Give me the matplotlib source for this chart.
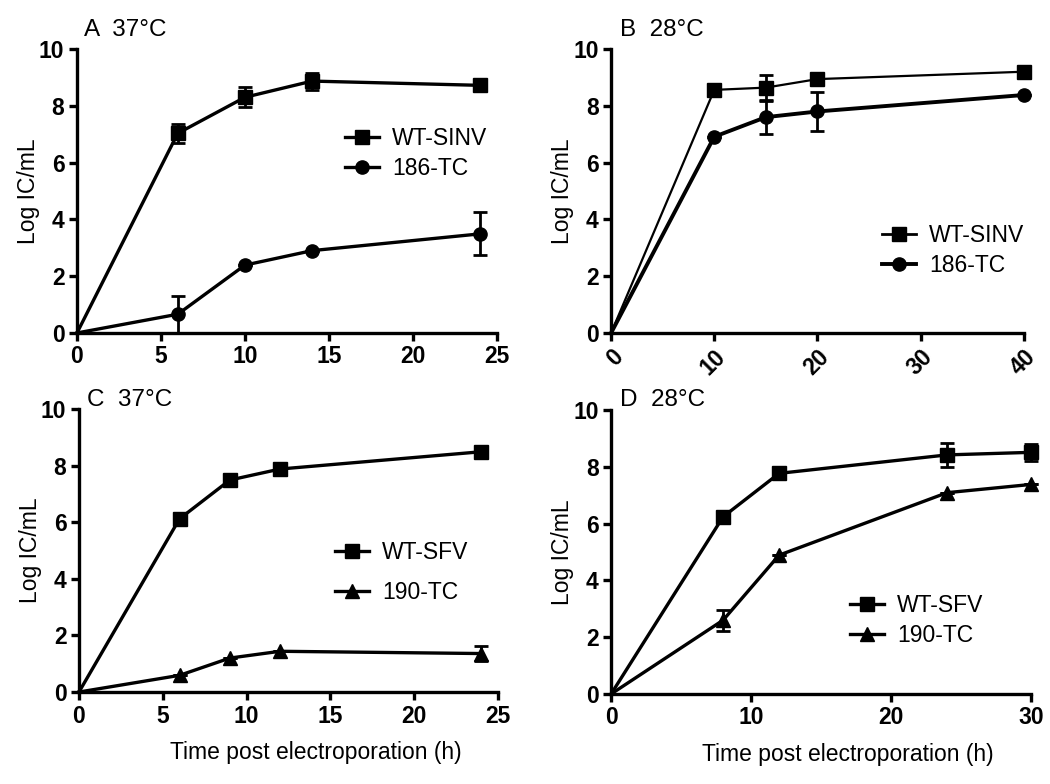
import matplotlib.pyplot as plt
from matplotlib.lines import Line2D

plt.rcParams['font.family'] = ['Liberation Sans', 'DejaVu Sans']

# Panel A: SINV at 37C
a_time = [0, 6, 10, 14, 24]
a_wt = [0, 7.03, 8.3, 8.87, 8.72]
a_wt_err = [0, 0.33, 0.35, 0.3, 0]
a_mut = [0, 0.66, 2.39, 2.9, 3.49]
a_mut_err = [0, 0.65, 0, 0, 0.76]

# Panel B: SINV at 28C
b_time = [0, 10, 15, 20, 40]
b_wt = [0, 8.56, 8.64, 8.94, 9.2]
b_wt_err = [0, 0, 0.44, 0, 0]
b_mut = [0, 6.91, 7.6, 7.8, 8.38]
b_mut_err = [0, 0, 0.58, 0.7, 0]

# Panel C: SFV at 37C
c_time = [0, 6, 9, 12, 24]
c_wt = [0, 6.12, 7.49, 7.88, 8.49]
c_wt_err = [0, 0, 0, 0, 0]
c_mut = [0, 0.59, 1.2, 1.44, 1.36]
c_mut_err = [0, 0, 0, 0, 0.28]

# Panel D: SFV at 28C
d_time = [0, 8, 12, 24, 30]
d_wt = [0, 6.24, 7.77, 8.42, 8.51]
d_wt_err = [0, 0, 0, 0.41, 0.29]
d_mut = [0, 2.6, 4.89, 7.09, 7.38]
d_mut_err = [0, 0.37, 0, 0, 0]

fig = plt.figure(figsize=(10.5, 7.84), dpi=100)

def style_axes(ax, xmax, xstep, rotate=False):
    ax.spines['top'].set_visible(False)
    ax.spines['right'].set_visible(False)
    ax.spines['left'].set_linewidth(2.4)
    ax.spines['bottom'].set_linewidth(2.4)
    ax.set_xlim(0, xmax)
    ax.set_ylim(0, 10)
    ax.set_xticks(range(0, xmax + 1, xstep))
    ax.set_yticks(range(0, 11, 2))
    ax.tick_params(width=2.4, length=6, labelsize=16.5, pad=3)
    for lab in ax.get_xticklabels() + ax.get_yticklabels():
        lab.set_fontweight('bold')
    if rotate:
        for lab in ax.get_xticklabels():
            lab.set_rotation(45)
            lab.set_ha('right')
            lab.set_va('top')
            lab.set_rotation_mode('anchor')
    ax.set_ylabel('Log IC/mL', fontsize=16.5, labelpad=-1)

def draw(ax, x, y, err, marker, lw=2.4):
    # line with error bars, markers only where data exist past time 0
    ax.errorbar(x, y, yerr=err, color='black', lw=lw, capsize=5, capthick=2,
                elinewidth=2, clip_on=False)
    ax.plot(x[1:], y[1:], ls='none', marker=marker, ms=9.5, color='black',
            clip_on=False)

def legend(ax, labels, markers, anchor, spacing, lws=(2.4, 2.4)):
    handles = [Line2D([], [], color='black', marker=m, ms=9.5, lw=w)
               for m, w in zip(markers, lws)]
    ax.legend(handles, labels, frameon=False, fontsize=16.5, loc='center left',
              bbox_to_anchor=anchor, borderpad=0, borderaxespad=0,
              handlelength=1.5, handletextpad=0.55, labelspacing=spacing)

axA = fig.add_axes([0.0733, 0.5753, 0.40, 0.3622])
draw(axA, a_time, a_wt, a_wt_err, 's')
draw(axA, a_time, a_mut, a_mut_err, 'o')
style_axes(axA, 25, 5)
legend(axA, ['WT-SINV', '186-TC'], ['s', 'o'], (0.638, 0.632), 0.3)
fig.text(0.080, 0.962, 'A  37\u00b0C', fontsize=17.5, va='center')

axB = fig.add_axes([0.582, 0.5753, 0.393, 0.3622])
draw(axB, b_time, b_wt, b_wt_err, 's', lw=1.6)
draw(axB, b_time, b_mut, b_mut_err, 'o', lw=2.8)
style_axes(axB, 40, 10, rotate=True)
legend(axB, ['WT-SINV', '186-TC'], ['s', 'o'], (0.656, 0.29), 0.3, lws=(2.0, 2.8))
fig.text(0.590, 0.962, 'B  28\u00b0C', fontsize=17.5, va='center')

axC = fig.add_axes([0.0752, 0.1173, 0.3991, 0.361])
draw(axC, c_time, c_wt, c_wt_err, 's')
draw(axC, c_time, c_mut, c_mut_err, '^')
style_axes(axC, 25, 5)
legend(axC, ['WT-SFV', '190-TC'], ['s', '^'], (0.611, 0.422), 0.75)
axC.set_xlabel('Time post electroporation (h)', fontsize=16.5, labelpad=10, x=0.566)
fig.text(0.083, 0.490, 'C  37\u00b0C', fontsize=17.5, va='center')

axD = fig.add_axes([0.582, 0.1148, 0.40, 0.3622])
draw(axD, d_time, d_wt, d_wt_err, 's')
draw(axD, d_time, d_mut, d_mut_err, '^')
style_axes(axD, 30, 10)
legend(axD, ['WT-SFV', '190-TC'], ['s', '^'], (0.569, 0.26), 0.3)
axD.set_xlabel('Time post electroporation (h)', fontsize=16.5, labelpad=10, x=0.564)
fig.text(0.590, 0.490, 'D  28\u00b0C', fontsize=17.5, va='center')

fig.savefig('out.png', dpi=100)
